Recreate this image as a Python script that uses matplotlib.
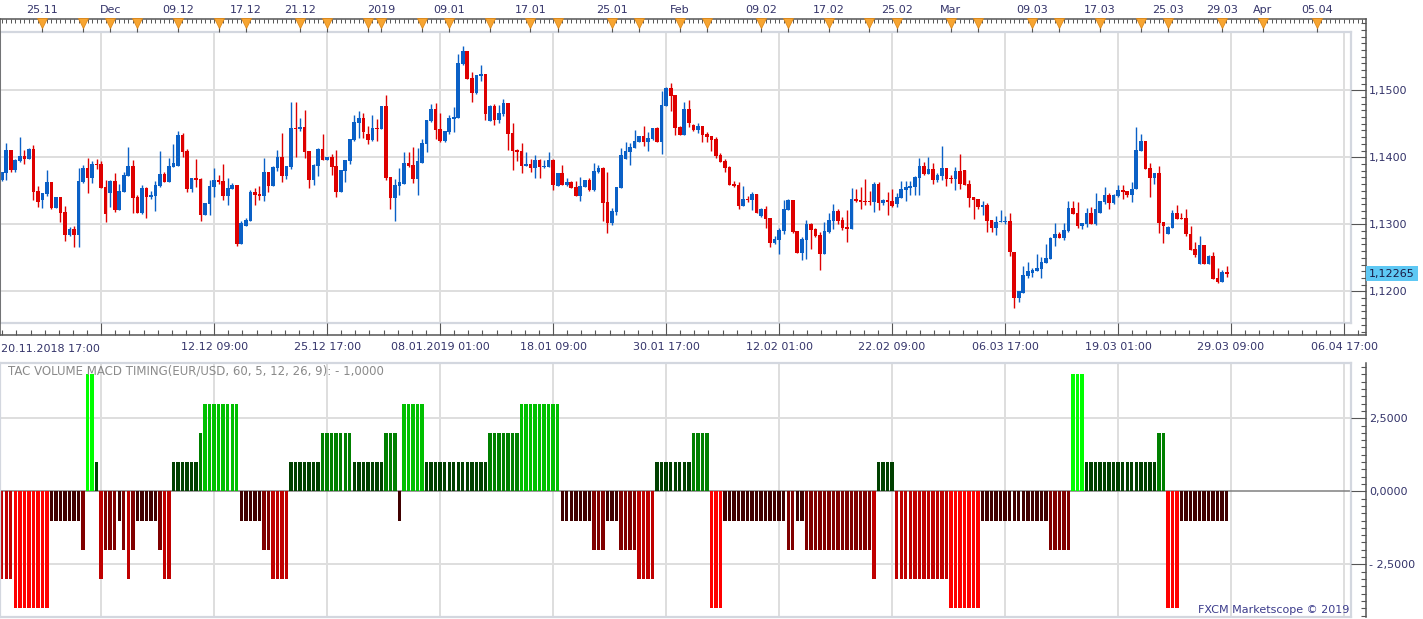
import numpy as np
import matplotlib.pyplot as plt
from matplotlib.ticker import FixedLocator, MultipleLocator, FuncFormatter

# EUR/USD 8h candles, 20.11.2018 17:00 .. 29.03.2019 09:00
opens = [
    1.1366, 1.1377, 1.1411, 1.1381, 1.1395, 1.1402, 1.1398, 1.1412, 1.1350, 1.1336,
    1.1345, 1.1363, 1.1324, 1.1341, 1.1318, 1.1284, 1.1293, 1.1284, 1.1363, 1.1384,
    1.1369, 1.1390, 1.1390, 1.1356, 1.1347, 1.1365, 1.1321, 1.1348, 1.1372, 1.1387,
    1.1341, 1.1317, 1.1354, 1.1341, 1.1342, 1.1357, 1.1375, 1.1363, 1.1386, 1.1387,
    1.1433, 1.1409, 1.1353, 1.1369, 1.1368, 1.1314, 1.1330, 1.1356, 1.1366, 1.1365,
    1.1342, 1.1353, 1.1359, 1.1271, 1.1298, 1.1305, 1.1348, 1.1345, 1.1342, 1.1378,
    1.1357, 1.1384, 1.1400, 1.1372, 1.1386, 1.1444, 1.1442, 1.1445, 1.1409, 1.1366,
    1.1387, 1.1412, 1.1396, 1.1400, 1.1387, 1.1348, 1.1380, 1.1395, 1.1426, 1.1451,
    1.1459, 1.1435, 1.1426, 1.1444, 1.1442, 1.1477, 1.1371, 1.1339, 1.1357, 1.1360,
    1.1392, 1.1389, 1.1368, 1.1392, 1.1420, 1.1454, 1.1472, 1.1442, 1.1424, 1.1438,
    1.1457, 1.1459, 1.1539, 1.1559, 1.1518, 1.1496, 1.1521, 1.1524, 1.1454, 1.1477,
    1.1456, 1.1465, 1.1481, 1.1436, 1.1411, 1.1409, 1.1387, 1.1390, 1.1384, 1.1396,
    1.1386, 1.1386, 1.1396, 1.1357, 1.1377, 1.1359, 1.1363, 1.1356, 1.1342, 1.1356,
    1.1366, 1.1351, 1.1378, 1.1384, 1.1333, 1.1302, 1.1318, 1.1354, 1.1397, 1.1408,
    1.1414, 1.1423, 1.1432, 1.1423, 1.1427, 1.1444, 1.1423, 1.1477, 1.1503, 1.1493,
    1.1445, 1.1433, 1.1472, 1.1448, 1.1441, 1.1447, 1.1435, 1.1432, 1.1427, 1.1403,
    1.1394, 1.1386, 1.1360, 1.1359, 1.1327, 1.1338, 1.1336, 1.1345, 1.1312, 1.1323,
    1.1309, 1.1272, 1.1277, 1.1290, 1.1321, 1.1336, 1.1290, 1.1257, 1.1276, 1.1300,
    1.1293, 1.1284, 1.1255, 1.1288, 1.1305, 1.1320, 1.1306, 1.1296, 1.1293, 1.1338,
    1.1336, 1.1335, 1.1335, 1.1333, 1.1360, 1.1332, 1.1336, 1.1335, 1.1330, 1.1339,
    1.1351, 1.1354, 1.1356, 1.1369, 1.1387, 1.1375, 1.1383, 1.1366, 1.1372, 1.1384,
    1.1369, 1.1368, 1.1380, 1.1381, 1.1360, 1.1341, 1.1338, 1.1326, 1.1329, 1.1306,
    1.1294, 1.1303, 1.1304, 1.1305, 1.1259, 1.1190, 1.1198, 1.1223, 1.1227, 1.1230,
    1.1233, 1.1242, 1.1248, 1.1279, 1.1285, 1.1280, 1.1290, 1.1324, 1.1317, 1.1297,
    1.1301, 1.1317, 1.1301, 1.1317, 1.1333, 1.1344, 1.1332, 1.1342, 1.1351, 1.1350,
    1.1344, 1.1352, 1.1409, 1.1424, 1.1384, 1.1369, 1.1377, 1.1303, 1.1286, 1.1294,
    1.1317, 1.1309, 1.1309, 1.1286, 1.1263, 1.1241, 1.1269, 1.1241, 1.1253, 1.1220,
    1.1214, 1.1229,
]
highs = [
    1.1378, 1.1421, 1.1411, 1.1398, 1.1430, 1.1411, 1.1414, 1.1418, 1.1357, 1.1347,
    1.1381, 1.1363, 1.1341, 1.1341, 1.1327, 1.1296, 1.1298, 1.1384, 1.1389, 1.1399,
    1.1395, 1.1398, 1.1395, 1.1366, 1.1366, 1.1377, 1.1360, 1.1378, 1.1415, 1.1396,
    1.1344, 1.1359, 1.1356, 1.1350, 1.1365, 1.1409, 1.1378, 1.1399, 1.1420, 1.1439,
    1.1436, 1.1412, 1.1369, 1.1398, 1.1369, 1.1332, 1.1366, 1.1384, 1.1374, 1.1390,
    1.1369, 1.1362, 1.1359, 1.1305, 1.1309, 1.1351, 1.1354, 1.1357, 1.1399, 1.1378,
    1.1387, 1.1411, 1.1436, 1.1387, 1.1483, 1.1483, 1.1459, 1.1471, 1.1409, 1.1390,
    1.1414, 1.1435, 1.1400, 1.1405, 1.1411, 1.1381, 1.1396, 1.1427, 1.1463, 1.1469,
    1.1466, 1.1447, 1.1463, 1.1457, 1.1477, 1.1493, 1.1371, 1.1368, 1.1384, 1.1408,
    1.1408, 1.1415, 1.1414, 1.1427, 1.1456, 1.1480, 1.1481, 1.1466, 1.1439, 1.1463,
    1.1475, 1.1554, 1.1566, 1.1559, 1.1527, 1.1523, 1.1538, 1.1524, 1.1478, 1.1480,
    1.1478, 1.1487, 1.1481, 1.1451, 1.1412, 1.1421, 1.1408, 1.1398, 1.1403, 1.1398,
    1.1396, 1.1408, 1.1398, 1.1377, 1.1389, 1.1369, 1.1365, 1.1365, 1.1371, 1.1366,
    1.1369, 1.1392, 1.1389, 1.1386, 1.1378, 1.1324, 1.1356, 1.1414, 1.1423, 1.1421,
    1.1441, 1.1432, 1.1447, 1.1438, 1.1444, 1.1445, 1.1499, 1.1505, 1.1511, 1.1493,
    1.1447, 1.1483, 1.1486, 1.1450, 1.1451, 1.1447, 1.1438, 1.1432, 1.1430, 1.1406,
    1.1398, 1.1387, 1.1365, 1.1363, 1.1357, 1.1342, 1.1348, 1.1345, 1.1324, 1.1327,
    1.1309, 1.1282, 1.1294, 1.1336, 1.1338, 1.1336, 1.1290, 1.1281, 1.1306, 1.1302,
    1.1294, 1.1288, 1.1303, 1.1317, 1.1330, 1.1323, 1.1311, 1.1321, 1.1354, 1.1353,
    1.1356, 1.1368, 1.1350, 1.1363, 1.1363, 1.1338, 1.1348, 1.1353, 1.1347, 1.1365,
    1.1365, 1.1365, 1.1372, 1.1399, 1.1393, 1.1400, 1.1392, 1.1377, 1.1417, 1.1384,
    1.1374, 1.1386, 1.1405, 1.1381, 1.1366, 1.1341, 1.1338, 1.1335, 1.1332, 1.1306,
    1.1312, 1.1321, 1.1312, 1.1317, 1.1259, 1.1200, 1.1238, 1.1244, 1.1235, 1.1256,
    1.1251, 1.1271, 1.1281, 1.1302, 1.1288, 1.1302, 1.1335, 1.1335, 1.1333, 1.1302,
    1.1324, 1.1326, 1.1346, 1.1335, 1.1356, 1.1347, 1.1345, 1.1359, 1.1359, 1.1350,
    1.1363, 1.1445, 1.1435, 1.1424, 1.1392, 1.1377, 1.1387, 1.1303, 1.1297, 1.1321,
    1.1329, 1.1317, 1.1323, 1.1297, 1.1274, 1.1283, 1.1269, 1.1254, 1.1259, 1.1235,
    1.1232, 1.1237,
]
lows = [
    1.1364, 1.1366, 1.1378, 1.1378, 1.1393, 1.1390, 1.1398, 1.1336, 1.1326, 1.1324,
    1.1342, 1.1323, 1.1324, 1.1303, 1.1275, 1.1283, 1.1266, 1.1266, 1.1362, 1.1347,
    1.1362, 1.1383, 1.1354, 1.1303, 1.1326, 1.1318, 1.1321, 1.1348, 1.1372, 1.1317,
    1.1317, 1.1315, 1.1309, 1.1338, 1.1320, 1.1356, 1.1363, 1.1363, 1.1386, 1.1387,
    1.1400, 1.1348, 1.1348, 1.1356, 1.1305, 1.1314, 1.1314, 1.1341, 1.1360, 1.1336,
    1.1329, 1.1353, 1.1268, 1.1271, 1.1298, 1.1305, 1.1329, 1.1336, 1.1335, 1.1348,
    1.1357, 1.1380, 1.1363, 1.1368, 1.1383, 1.1400, 1.1439, 1.1399, 1.1354, 1.1359,
    1.1372, 1.1396, 1.1396, 1.1374, 1.1341, 1.1348, 1.1363, 1.1390, 1.1424, 1.1429,
    1.1429, 1.1420, 1.1424, 1.1424, 1.1442, 1.1366, 1.1323, 1.1305, 1.1344, 1.1360,
    1.1386, 1.1362, 1.1344, 1.1392, 1.1408, 1.1453, 1.1427, 1.1423, 1.1423, 1.1435,
    1.1438, 1.1459, 1.1538, 1.1517, 1.1483, 1.1495, 1.1514, 1.1456, 1.1454, 1.1448,
    1.1451, 1.1462, 1.1411, 1.1381, 1.1394, 1.1377, 1.1387, 1.1378, 1.1369, 1.1369,
    1.1384, 1.1386, 1.1351, 1.1357, 1.1359, 1.1357, 1.1354, 1.1342, 1.1335, 1.1356,
    1.1350, 1.1350, 1.1377, 1.1305, 1.1287, 1.1299, 1.1314, 1.1354, 1.1397, 1.1389,
    1.1414, 1.1423, 1.1417, 1.1409, 1.1426, 1.1423, 1.1405, 1.1477, 1.1469, 1.1433,
    1.1433, 1.1433, 1.1445, 1.1439, 1.1436, 1.1423, 1.1423, 1.1409, 1.1399, 1.1393,
    1.1378, 1.1359, 1.1356, 1.1323, 1.1327, 1.1333, 1.1321, 1.1317, 1.1311, 1.1294,
    1.1266, 1.1271, 1.1256, 1.1286, 1.1321, 1.1287, 1.1257, 1.1246, 1.1248, 1.1263,
    1.1281, 1.1232, 1.1255, 1.1287, 1.1293, 1.1300, 1.1291, 1.1274, 1.1293, 1.1333,
    1.1323, 1.1329, 1.1329, 1.1318, 1.1321, 1.1329, 1.1314, 1.1326, 1.1326, 1.1339,
    1.1335, 1.1344, 1.1344, 1.1344, 1.1374, 1.1375, 1.1360, 1.1363, 1.1366, 1.1357,
    1.1362, 1.1351, 1.1353, 1.1359, 1.1326, 1.1308, 1.1323, 1.1314, 1.1288, 1.1288,
    1.1284, 1.1303, 1.1300, 1.1253, 1.1175, 1.1184, 1.1197, 1.1220, 1.1221, 1.1230,
    1.1220, 1.1242, 1.1248, 1.1267, 1.1280, 1.1277, 1.1289, 1.1315, 1.1294, 1.1293,
    1.1296, 1.1301, 1.1299, 1.1317, 1.1330, 1.1323, 1.1330, 1.1341, 1.1338, 1.1341,
    1.1333, 1.1352, 1.1409, 1.1383, 1.1341, 1.1360, 1.1287, 1.1272, 1.1286, 1.1294,
    1.1308, 1.1308, 1.1283, 1.1262, 1.1251, 1.1241, 1.1241, 1.1241, 1.1218, 1.1213,
    1.1214, 1.1221,
]
closes = [
    1.1378, 1.1411, 1.1381, 1.1396, 1.1402, 1.1398, 1.1412, 1.1348, 1.1333, 1.1347,
    1.1363, 1.1324, 1.1341, 1.1317, 1.1284, 1.1293, 1.1284, 1.1365, 1.1384, 1.1369,
    1.1390, 1.1389, 1.1354, 1.1315, 1.1365, 1.1321, 1.1350, 1.1374, 1.1387, 1.1339,
    1.1317, 1.1354, 1.1341, 1.1344, 1.1359, 1.1375, 1.1363, 1.1387, 1.1392, 1.1433,
    1.1408, 1.1353, 1.1369, 1.1366, 1.1314, 1.1332, 1.1357, 1.1366, 1.1363, 1.1342,
    1.1354, 1.1359, 1.1271, 1.1302, 1.1306, 1.1348, 1.1344, 1.1342, 1.1378, 1.1357,
    1.1386, 1.1400, 1.1372, 1.1387, 1.1444, 1.1442, 1.1445, 1.1408, 1.1366, 1.1389,
    1.1412, 1.1396, 1.1400, 1.1386, 1.1348, 1.1381, 1.1396, 1.1427, 1.1453, 1.1459,
    1.1438, 1.1426, 1.1444, 1.1442, 1.1477, 1.1369, 1.1339, 1.1359, 1.1363, 1.1392,
    1.1387, 1.1368, 1.1395, 1.1421, 1.1456, 1.1472, 1.1441, 1.1424, 1.1439, 1.1459,
    1.1460, 1.1541, 1.1559, 1.1517, 1.1496, 1.1523, 1.1524, 1.1465, 1.1477, 1.1456,
    1.1466, 1.1481, 1.1435, 1.1409, 1.1408, 1.1387, 1.1390, 1.1384, 1.1396, 1.1386,
    1.1387, 1.1396, 1.1359, 1.1377, 1.1359, 1.1363, 1.1354, 1.1342, 1.1357, 1.1366,
    1.1351, 1.1380, 1.1384, 1.1332, 1.1302, 1.1320, 1.1356, 1.1403, 1.1409, 1.1415,
    1.1424, 1.1432, 1.1423, 1.1429, 1.1444, 1.1423, 1.1478, 1.1503, 1.1492, 1.1444,
    1.1433, 1.1472, 1.1451, 1.1441, 1.1447, 1.1433, 1.1430, 1.1426, 1.1402, 1.1393,
    1.1384, 1.1359, 1.1357, 1.1327, 1.1338, 1.1336, 1.1345, 1.1317, 1.1323, 1.1308,
    1.1272, 1.1278, 1.1291, 1.1323, 1.1336, 1.1288, 1.1257, 1.1278, 1.1300, 1.1291,
    1.1282, 1.1255, 1.1290, 1.1306, 1.1320, 1.1305, 1.1295, 1.1293, 1.1338, 1.1335,
    1.1333, 1.1333, 1.1333, 1.1360, 1.1332, 1.1336, 1.1333, 1.1327, 1.1341, 1.1353,
    1.1356, 1.1357, 1.1371, 1.1387, 1.1375, 1.1383, 1.1366, 1.1374, 1.1384, 1.1368,
    1.1368, 1.1380, 1.1360, 1.1359, 1.1339, 1.1336, 1.1326, 1.1329, 1.1305, 1.1294,
    1.1303, 1.1305, 1.1305, 1.1258, 1.1190, 1.1200, 1.1225, 1.1231, 1.1232, 1.1235,
    1.1243, 1.1250, 1.1280, 1.1285, 1.1280, 1.1292, 1.1324, 1.1315, 1.1297, 1.1302,
    1.1317, 1.1301, 1.1323, 1.1335, 1.1344, 1.1332, 1.1344, 1.1351, 1.1348, 1.1344,
    1.1353, 1.1411, 1.1424, 1.1383, 1.1369, 1.1377, 1.1302, 1.1297, 1.1296, 1.1317,
    1.1308, 1.1308, 1.1285, 1.1262, 1.1254, 1.1269, 1.1241, 1.1253, 1.1218, 1.1214,
    1.1229, 1.12265,
]

# TAC VOLUME MACD TIMING, one value per candle
timing = [
    -3, -3, -3, -4, -4, -4, -4, -4, -4, -4,
    -4, -1, -1, -1, -1, -1, -1, -1, -2, 4,
    4, 1, -3, -2, -2, -2, -1, -2, -3, -2,
    -1, -1, -1, -1, -1, -2, -3, -3, 1, 1,
    1, 1, 1, 1, 2, 3, 3, 3, 3, 3,
    3, 3, 3, -1, -1, -1, -1, -1, -2, -2,
    -3, -3, -3, -3, 1, 1, 1, 1, 1, 1,
    1, 2, 2, 2, 2, 2, 2, 2, 1, 1,
    1, 1, 1, 1, 1, 2, 2, 2, -1, 3,
    3, 3, 3, 3, 1, 1, 1, 1, 1, 1,
    1, 1, 1, 1, 1, 1, 1, 1, 2, 2,
    2, 2, 2, 2, 2, 3, 3, 3, 3, 3,
    3, 3, 3, 3, -1, -1, -1, -1, -1, -1,
    -1, -2, -2, -2, -1, -1, -1, -2, -2, -2,
    -2, -3, -3, -3, -3, 1, 1, 1, 1, 1,
    1, 1, 1, 2, 2, 2, 2, -4, -4, -4,
    -1, -1, -1, -1, -1, -1, -1, -1, -1, -1,
    -1, -1, -1, -1, -2, -2, -1, -1, -2, -2,
    -2, -2, -2, -2, -2, -2, -2, -2, -2, -2,
    -2, -2, -2, -3, 1, 1, 1, 1, -3, -3,
    -3, -3, -3, -3, -3, -3, -3, -3, -3, -3,
    -4, -4, -4, -4, -4, -4, -4, -1, -1, -1,
    -1, -1, -1, -1, -1, -1, -1, -1, -1, -1,
    -1, -1, -2, -2, -2, -2, -2, 4, 4, 4,
    1, 1, 1, 1, 1, 1, 1, 1, 1, 1,
    1, 1, 1, 1, 1, 1, 2, 2, -4, -4,
    -4, -1, -1, -1, -1, -1, -1, -1, -1, -1,
    -1, -1,
]

# orange event markers on the top date ruler (bar numbers)
event_bars = [9, 18, 24, 30, 39, 48, 54, 66, 72, 81, 84, 93, 99, 108, 117, 123, 135,
              141, 150, 156, 168, 174, 183, 192, 198, 210, 216, 228, 234, 243, 252,
              258, 270, 279, 291]
top_label_bars = [9, 24, 39, 54, 66, 84, 99, 117, 135, 150, 168, 183, 198, 210, 228,
                  243, 258, 270, 279, 291]
top_labels = ["25.11", "Dec", "09.12", "17.12", "21.12", "2019", "09.01", "17.01",
              "25.01", "Feb", "09.02", "17.02", "25.02", "Mar", "09.03", "17.03",
              "25.03", "29.03", "Apr", "05.04"]

first_label = "20.11.2018 17:00"
grid_bars = [22, 47, 72, 97, 122, 147, 172, 197, 222, 247, 272, 297]
bottom_labels = ["", "12.12 09:00", "25.12 17:00", "08.01.2019 01:00", "18.01 09:00",
                 "30.01 17:00", "12.02 01:00", "22.02 09:00", "06.03 17:00",
                 "19.03 01:00", "29.03 09:00", "06.04 17:00"]

W, H = 1423, 619
FRAME = "#555555"
LIGHT = "#d3d7df"
GRID = "#dedede"
TXT = "#34346a"
UP = "#0a60c6"
DOWN = "#de0000"


def box(x0, y0, x1, y1):
    # pixel box (from top-left) -> figure fraction
    return [x0 / W, 1 - y1 / H, (x1 - x0) / W, (y1 - y0) / H]


def price_fmt(v, pos):
    return f"{v:.4f}".replace(".", ",")


def timing_fmt(v, pos):
    s = f"{abs(v):.4f}".replace(".", ",")
    return "- " + s if v < -1e-9 else s


o = np.array(opens)
h = np.array(highs)
l = np.array(lows)
c = np.array(closes)
n = len(c)
x = np.arange(n)
xl = (-0.38, 298.5)
xr = 301.8

fig = plt.figure(figsize=(W / 100, H / 100), dpi=100)
plt.rcParams["font.family"] = "DejaVu Sans"

# ---- price panel
ax = fig.add_axes(box(0, 31.7, 1351, 322.7))
ax.set_xlim(*xl)
ax.set_ylim(1.11531, 1.15875)
ax.set_xticks(grid_bars)
ax.set_yticks([1.12, 1.13, 1.14, 1.15])
ax.grid(True, color=GRID, lw=1.4)
ax.set_axisbelow(True)
ax.tick_params(length=0, labelbottom=False, labelleft=False)
for s in ax.spines.values():
    s.set_color(LIGHT)
    s.set_linewidth(1.6)

up = c >= o
cols = np.where(up, UP, DOWN)
body_lo = np.minimum(o, c)
body_h = np.maximum(np.abs(c - o), 0.00013)
ax.vlines(x, np.minimum(l, body_lo), np.maximum(h, np.maximum(o, c)), colors=cols, lw=1.0)
ax.bar(x, body_h, bottom=body_lo, width=0.8, color=cols, linewidth=0)

# dark frame with price scale and time axis
axf = fig.add_axes(box(0, 19, 1365.7, 335))
axf.set_facecolor("none")
axf.set_xlim(xl[0], xr)
axf.set_ylim(1.11348, 1.16064)
for s in axf.spines.values():
    s.set_color(FRAME)
    s.set_linewidth(1.1)
axf.yaxis.tick_right()
axf.yaxis.set_major_locator(FixedLocator([1.12, 1.13, 1.14, 1.15]))
axf.yaxis.set_minor_locator(MultipleLocator(0.001))
axf.yaxis.set_major_formatter(FuncFormatter(price_fmt))
axf.tick_params(axis="y", which="major", direction="in", length=10.5, width=0.8,
                color=FRAME, pad=2.4, labelsize=8, labelcolor=TXT)
axf.tick_params(axis="y", which="minor", direction="in", length=3.6, width=0.8, color=FRAME)
axf.xaxis.set_major_locator(FixedLocator(grid_bars))
axf.xaxis.set_minor_locator(FixedLocator(np.arange(22 - 7 * 3.125, xr, 3.125)))
axf.set_xticklabels(bottom_labels)
axf.tick_params(axis="x", which="major", direction="in", length=9, width=0.8,
                color=FRAME, pad=5, labelsize=8, labelcolor=TXT)
axf.tick_params(axis="x", which="minor", direction="in", length=3.6, width=0.8, color=FRAME)
fig.text(1.5 / W, 1 - 349 / H, first_label, ha="left", va="center", fontsize=8, color=TXT)

last = closes[-1]
axf.annotate(f"{last:.5f}".replace(".", ","), xy=(1, last), xycoords=axf.get_yaxis_transform(),
             xytext=(2.4, 0), textcoords="offset points", ha="left", va="center",
             fontsize=8, color="#1a1a44",
             bbox=dict(boxstyle="square,pad=0.25", fc="#5ec8f4", ec="none"))

# top date ruler
axt = axf.twiny()
axt.set_xlim(xl[0], xr)
for s in axt.spines.values():
    s.set_visible(False)
axt.xaxis.set_major_locator(FixedLocator(event_bars))
axt.xaxis.set_minor_locator(FixedLocator(np.arange(0, xr)))
lab = dict(zip(top_label_bars, top_labels))
axt.set_xticklabels([lab.get(b, "") for b in event_bars])
axt.tick_params(axis="x", which="major", direction="in", length=9.1, width=0.8,
                color=FRAME, pad=3, labelsize=8, labelcolor=TXT)
axt.tick_params(axis="x", which="minor", direction="in", length=3.1, width=0.7, color=FRAME)
axt.plot(event_bars, [1 - 4.3 / 316] * len(event_bars), transform=axt.get_xaxis_transform(),
         ls="none", marker="v", ms=6.5, color="#f7a531", mec="#e08a18", mew=0.6, clip_on=False)

# ---- timing panel
ax2 = fig.add_axes(box(0, 363, 1351, 617.3))
ax2.set_xlim(*xl)
ax2.set_ylim(-4.31, 4.39)
ax2.set_xticks(grid_bars)
ax2.set_yticks([-2.5, 2.5])
ax2.grid(True, color=GRID, lw=1.4)
ax2.set_axisbelow(True)
ax2.tick_params(length=0, labelbottom=False, labelleft=False)
for s in ax2.spines.values():
    s.set_color(LIGHT)
    s.set_linewidth(1.6)
ax2.axhline(0, color="#808080", lw=1.1, zorder=1)

hcols = []
for v in timing:
    k = min(64 * abs(v), 255) / 255
    hcols.append((0, k, 0) if v > 0 else (k, 0, 0))
ax2.bar(x, timing, width=0.76, color=hcols, linewidth=0, zorder=2)

ax2.text(8 / 1351, 1 - 8 / 254.3, "TAC VOLUME MACD TIMING(EUR/USD, 60, 5, 12, 26, 9): - 1,0000",
         transform=ax2.transAxes, ha="left", va="center", fontsize=8.5, color="#8a8a8a")
ax2.text(1 - 2 / 1351, 7.3 / 254.3, "FXCM Marketscope © 2019", transform=ax2.transAxes,
         ha="right", va="center", fontsize=8, color="#3c3c8c")

axb = fig.add_axes(box(0, 363, 1365.7, 617.3))
axb.set_facecolor("none")
axb.set_xlim(xl[0], xr)
axb.set_ylim(-4.31, 4.39)
for k, s in axb.spines.items():
    s.set_visible(k == "right")
    s.set_color(FRAME)
    s.set_linewidth(1.1)
axb.set_xticks([])
axb.yaxis.tick_right()
axb.yaxis.set_major_locator(FixedLocator([-2.5, 0, 2.5]))
axb.yaxis.set_minor_locator(MultipleLocator(0.25))
axb.yaxis.set_major_formatter(FuncFormatter(timing_fmt))
axb.tick_params(axis="y", which="major", direction="in", length=10.5, width=0.8,
                color=FRAME, pad=2.4, labelsize=8, labelcolor=TXT)
axb.tick_params(axis="y", which="minor", direction="in", length=3.6, width=0.8, color=FRAME)

fig.savefig("out.png", dpi=100)
